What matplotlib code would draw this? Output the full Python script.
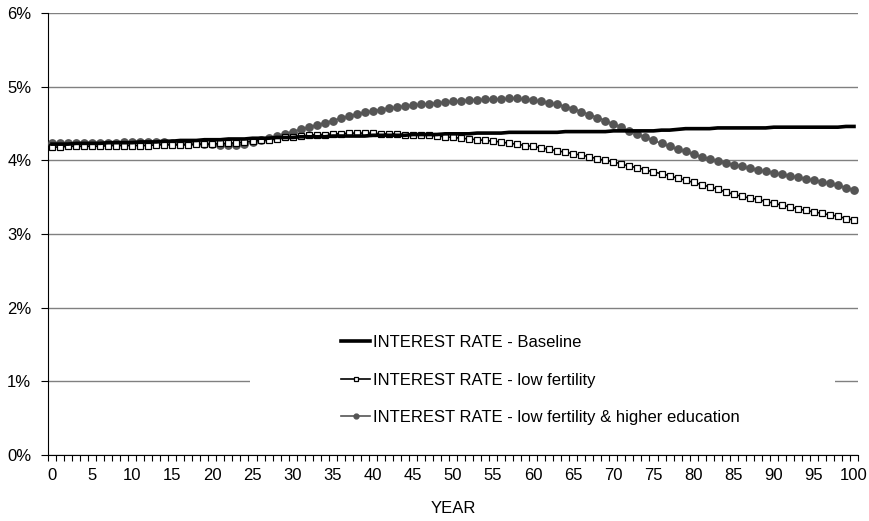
import matplotlib
matplotlib.use("Agg")
import matplotlib.pyplot as plt
from matplotlib.patches import Rectangle
from matplotlib.ticker import FuncFormatter, MultipleLocator, FixedLocator

plt.rcParams['font.family'] = ['Liberation Sans', 'DejaVu Sans']

years = list(range(0, 101))

baseline = [4.22, 4.22, 4.22, 4.23, 4.23, 4.23, 4.23, 4.24, 4.24, 4.24, 4.24,
            4.25, 4.25, 4.25, 4.26, 4.26, 4.27, 4.27, 4.27, 4.28, 4.28,
            4.28, 4.29, 4.29, 4.29, 4.30, 4.30, 4.30, 4.31, 4.31, 4.31,
            4.32, 4.32, 4.32, 4.32, 4.33, 4.33, 4.33, 4.33, 4.33, 4.34,
            4.34, 4.34, 4.34, 4.34, 4.35, 4.35, 4.35, 4.35, 4.36, 4.36,
            4.36, 4.36, 4.37, 4.37, 4.37, 4.37, 4.38, 4.38, 4.38, 4.38,
            4.38, 4.38, 4.38, 4.39, 4.39, 4.39, 4.39, 4.39, 4.39, 4.40,
            4.40, 4.40, 4.40, 4.40, 4.40, 4.41, 4.41, 4.42, 4.43, 4.43,
            4.43, 4.43, 4.44, 4.44, 4.44, 4.44, 4.44, 4.44, 4.44, 4.45,
            4.45, 4.45, 4.45, 4.45, 4.45, 4.45, 4.45, 4.45, 4.46, 4.46]

low_fertility = [4.18, 4.18, 4.19, 4.19, 4.19, 4.19, 4.19, 4.20, 4.20, 4.20, 4.20,
                 4.20, 4.20, 4.21, 4.21, 4.21, 4.21, 4.21, 4.22, 4.22, 4.22,
                 4.23, 4.23, 4.24, 4.25, 4.26, 4.27, 4.28, 4.29, 4.31, 4.32,
                 4.33, 4.34, 4.35, 4.35, 4.36, 4.36, 4.37, 4.37, 4.37, 4.37,
                 4.36, 4.36, 4.36, 4.35, 4.35, 4.34, 4.34, 4.33, 4.32, 4.31,
                 4.30, 4.29, 4.28, 4.27, 4.26, 4.25, 4.23, 4.22, 4.20, 4.19,
                 4.17, 4.15, 4.13, 4.11, 4.09, 4.07, 4.05, 4.02, 4.00, 3.98,
                 3.95, 3.92, 3.90, 3.87, 3.84, 3.82, 3.79, 3.76, 3.73, 3.70,
                 3.67, 3.64, 3.61, 3.57, 3.54, 3.51, 3.49, 3.47, 3.44, 3.42,
                 3.39, 3.37, 3.34, 3.32, 3.30, 3.28, 3.26, 3.24, 3.21, 3.19]

higher_edu = [4.23, 4.23, 4.23, 4.23, 4.24, 4.24, 4.24, 4.24, 4.24, 4.25, 4.25,
              4.25, 4.25, 4.25, 4.25, 4.24, 4.24, 4.23, 4.23, 4.22, 4.22,
              4.21, 4.21, 4.21, 4.22, 4.25, 4.27, 4.30, 4.33, 4.36, 4.39,
              4.42, 4.45, 4.48, 4.51, 4.54, 4.57, 4.60, 4.63, 4.65, 4.67,
              4.69, 4.71, 4.72, 4.74, 4.75, 4.76, 4.77, 4.78, 4.79, 4.80,
              4.81, 4.82, 4.82, 4.83, 4.83, 4.83, 4.84, 4.84, 4.83, 4.82,
              4.80, 4.78, 4.76, 4.73, 4.70, 4.66, 4.62, 4.58, 4.54, 4.49,
              4.45, 4.40, 4.36, 4.31, 4.27, 4.23, 4.19, 4.15, 4.12, 4.08,
              4.05, 4.02, 3.99, 3.96, 3.94, 3.92, 3.89, 3.87, 3.85, 3.83,
              3.81, 3.79, 3.77, 3.75, 3.73, 3.71, 3.69, 3.66, 3.63, 3.60]

labels = ["INTEREST RATE - Baseline",
          "INTEREST RATE - low fertility",
          "INTEREST RATE - low fertility & higher education"]

FS = 12

fig = plt.figure(figsize=(8.69, 5.21), dpi=100)
ax = fig.add_axes([48/869, 1 - 455/521, 810/869, 442/521])

ax.plot(years, baseline, color='black', lw=2.6, label=labels[0], zorder=5)
ax.plot(years, low_fertility, color='black', lw=1.2, marker='s', ms=4.5,
        mfc='white', mec='black', mew=0.9, label=labels[1], zorder=4)
ax.plot(years, higher_edu, color='#555555', lw=1.2, marker='o', ms=5.3,
        mfc='#555555', mec='#555555', label=labels[2], zorder=3)

ax.set_xlim(-0.5, 100.5)
ax.set_ylim(0, 6)

ax.yaxis.set_major_locator(MultipleLocator(1))
ax.yaxis.set_major_formatter(FuncFormatter(lambda v, p: f"{v:.0f}%"))
ax.xaxis.set_major_locator(FixedLocator(list(range(0, 101, 5))))
ax.xaxis.set_minor_locator(FixedLocator([i - 0.5 for i in range(0, 102)]))
ax.tick_params(axis='x', which='major', length=0, pad=9, labelsize=FS)
ax.tick_params(axis='x', which='minor', length=4, width=0.8, direction='out')
ax.tick_params(axis='y', which='major', length=5, width=0.8, pad=7, labelsize=FS)

ax.grid(axis='y', color='#808080', lw=1)
ax.set_axisbelow(True)
for s in ['top', 'right']:
    ax.spines[s].set_visible(False)
ax.spines['left'].set_color('black')
ax.spines['bottom'].set_color('black')

ax.set_xlabel("YEAR", fontsize=FS, labelpad=13)

ax.add_patch(Rectangle(((250-48)/810, 20/442), 585/810, 110/442,
                       transform=ax.transAxes, facecolor='white',
                       edgecolor='none', zorder=1.5))

leg = ax.legend(loc='center left', bbox_to_anchor=((341-48)/810, (455-380)/442),
                frameon=False, fontsize=FS, handlelength=1.75, handletextpad=0.15,
                labelspacing=1.36, borderaxespad=0, borderpad=0)
for h in leg.get_lines():
    h.set_markersize(3.5)

fig.savefig("out.png", dpi=100)
